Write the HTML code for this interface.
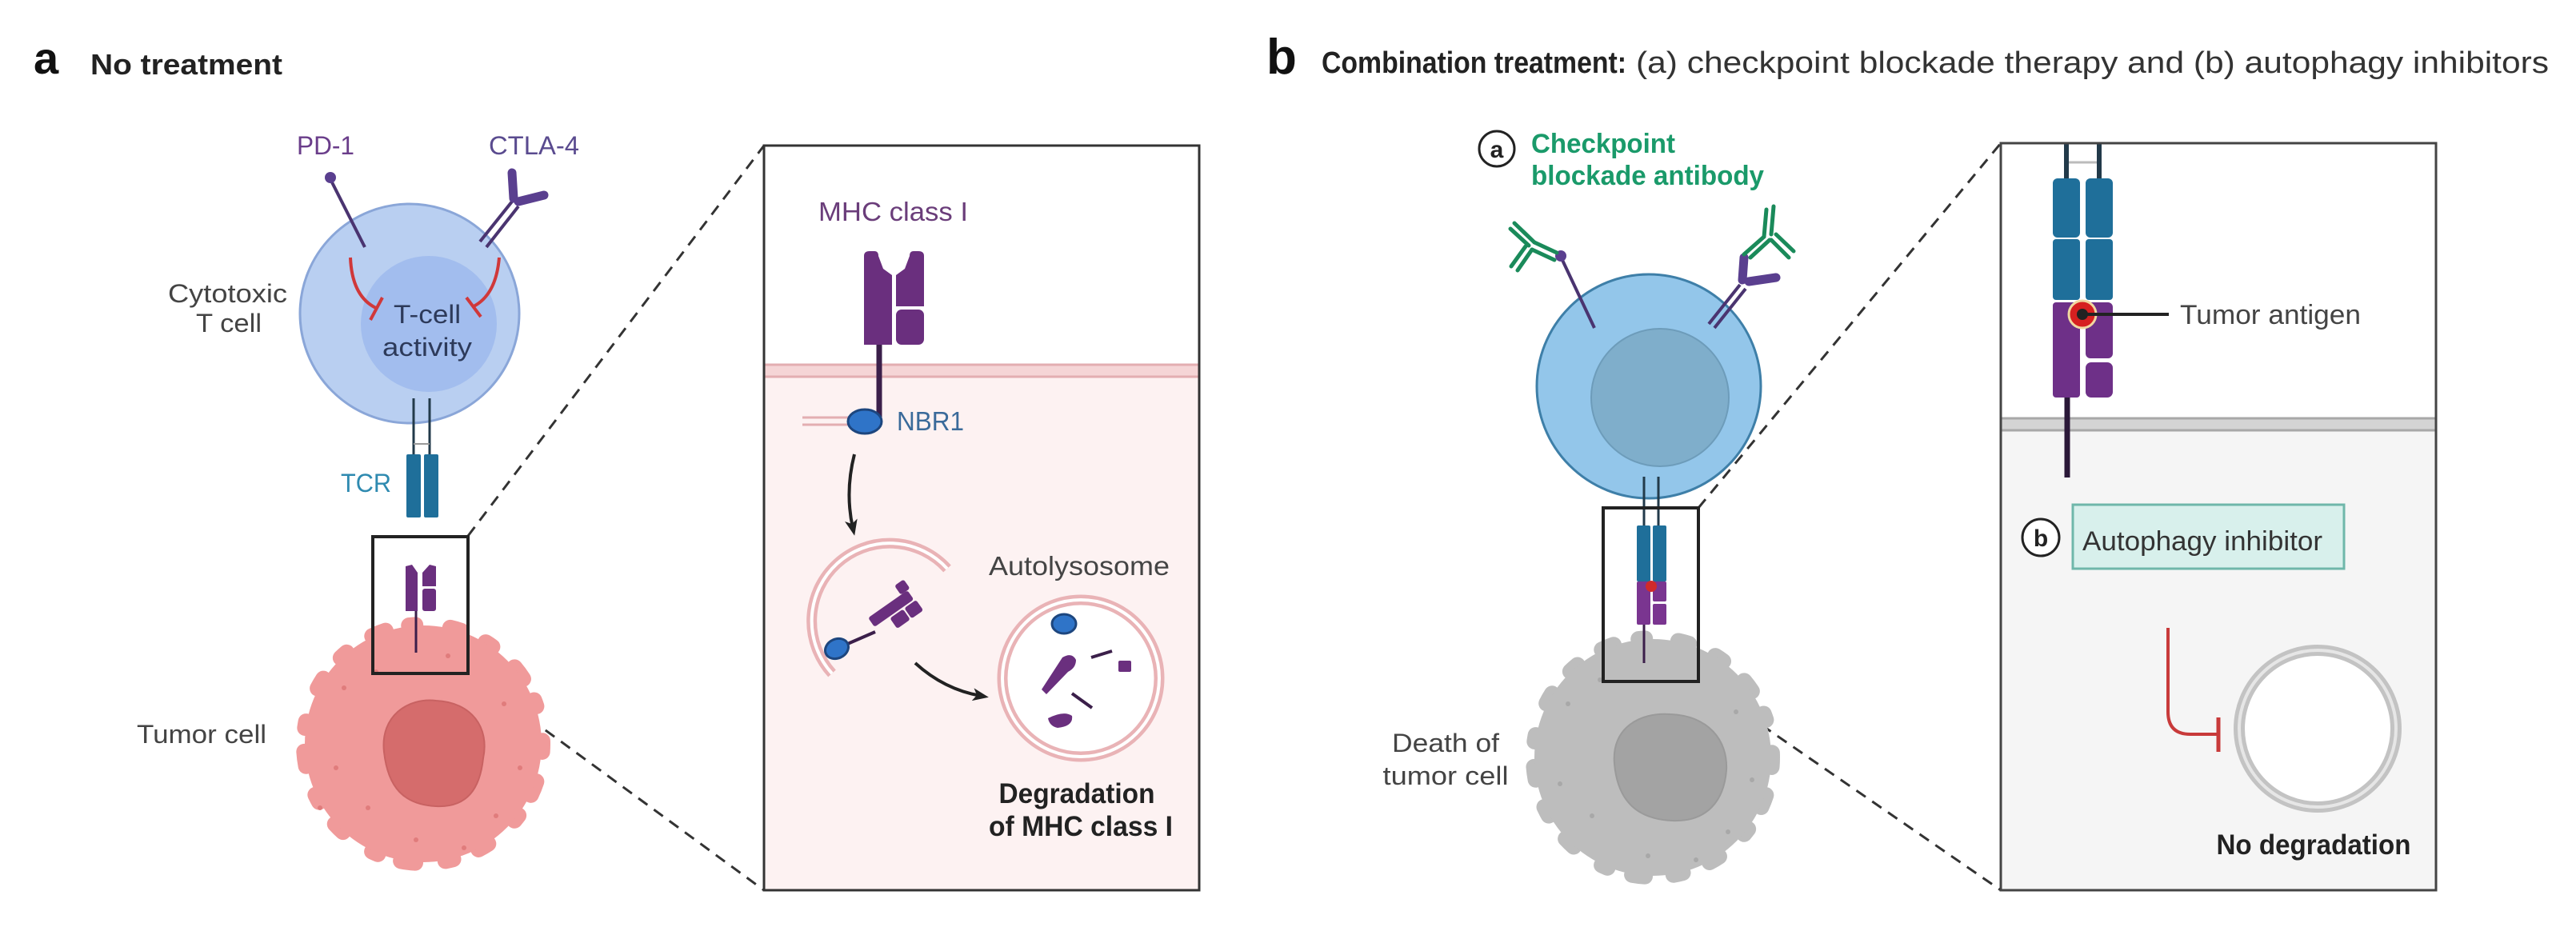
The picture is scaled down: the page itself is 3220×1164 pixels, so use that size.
<!DOCTYPE html>
<html><head><meta charset="utf-8">
<style>
html,body{margin:0;padding:0;background:#fff;}
svg{display:block;}
text{font-family:"Liberation Sans",Arial,sans-serif;}
</style></head>
<body>
<svg width="3220" height="1164" viewBox="0 0 3220 1164" xmlns="http://www.w3.org/2000/svg">
<defs>
<marker id="ah" markerWidth="20" markerHeight="20" refX="10" refY="10" orient="auto" markerUnits="userSpaceOnUse" viewBox="0 0 20 20">
<path d="M0,2 L20,10 L0,18 L5,10 z" fill="#222"/></marker>
</defs>
<rect width="3220" height="1164" fill="#fff"/>

<!-- ===== Titles ===== -->
<text x="42" y="92" font-size="56" font-weight="bold" fill="#111">a</text>
<text x="113" y="93" font-size="36" font-weight="bold" fill="#222" textLength="240" lengthAdjust="spacingAndGlyphs">No treatment</text>
<text x="1583" y="92" font-size="62" font-weight="bold" fill="#111">b</text>
<text x="1652" y="91" font-size="38" font-weight="bold" fill="#222" textLength="381" lengthAdjust="spacingAndGlyphs">Combination treatment:</text>
<text x="2045" y="91" font-size="38" fill="#333" textLength="1141" lengthAdjust="spacingAndGlyphs">(a) checkpoint blockade therapy and (b) autophagy inhibitors</text>

<!-- ===== Panel a: left cells ===== -->
<line x1="585" y1="670" x2="955" y2="182" stroke="#333" stroke-width="3" stroke-dasharray="14 10"/>
<line x1="585" y1="842" x2="955" y2="1113" stroke="#333" stroke-width="3" stroke-dasharray="14 10"/>

<!-- tumor cell pink -->
<circle cx="529" cy="930" r="149" fill="none" stroke="#f09a9a" stroke-width="20" stroke-dasharray="10 38 18 30 8 44 14 34" stroke-linecap="round"/>
<circle cx="529" cy="930" r="148" fill="#f09a9a"/>
<path d="M480,940 C475,895 510,872 545,876 C590,878 612,910 604,948 C600,985 585,1010 545,1008 C505,1006 485,985 480,940 Z" fill="#d56c6c" stroke="#c86262" stroke-width="2"/>
<g fill="#e07c7c">
<circle cx="430" cy="860" r="3"/><circle cx="460" cy="1010" r="3"/><circle cx="630" cy="880" r="3"/><circle cx="620" cy="1020" r="3"/><circle cx="520" cy="1050" r="3"/><circle cx="420" cy="960" r="3"/><circle cx="650" cy="960" r="3"/><circle cx="560" cy="820" r="3"/><circle cx="470" cy="840" r="3"/><circle cx="400" cy="1010" r="3"/><circle cx="580" cy="1060" r="3"/>
</g>

<!-- T cell -->
<circle cx="512" cy="392" r="137" fill="#b9cff1" stroke="#8aa6d8" stroke-width="3"/>
<circle cx="536" cy="405" r="85" fill="#a2bdee"/>
<line x1="413" y1="224" x2="456" y2="309" stroke="#4a3470" stroke-width="4"/>
<circle cx="413" cy="222" r="7" fill="#5a3f8f"/>
<line x1="600" y1="302" x2="640" y2="252" stroke="#4a3470" stroke-width="4"/>
<line x1="608" y1="309" x2="648" y2="258" stroke="#4a3470" stroke-width="4"/>
<line x1="642" y1="248" x2="640" y2="216" stroke="#5a3f8f" stroke-width="11" stroke-linecap="round"/>
<line x1="648" y1="252" x2="680" y2="244" stroke="#5a3f8f" stroke-width="11" stroke-linecap="round"/>
<path d="M438,322 Q440,372 472,386" fill="none" stroke="#d0383a" stroke-width="4"/>
<line x1="463" y1="400" x2="478" y2="372" stroke="#d0383a" stroke-width="4"/>
<path d="M624,322 Q620,370 590,384" fill="none" stroke="#d0383a" stroke-width="4"/>
<line x1="583" y1="372" x2="601" y2="396" stroke="#d0383a" stroke-width="4"/>
<text x="534" y="404" font-size="32" fill="#2d3a5a" text-anchor="middle" textLength="84" lengthAdjust="spacingAndGlyphs">T-cell</text>
<text x="534" y="445" font-size="32" fill="#2d3a5a" text-anchor="middle" textLength="112" lengthAdjust="spacingAndGlyphs">activity</text>
<text x="359" y="378" font-size="32" fill="#444" text-anchor="end" textLength="149" lengthAdjust="spacingAndGlyphs">Cytotoxic</text>
<text x="327" y="415" font-size="32" fill="#444" text-anchor="end" textLength="82" lengthAdjust="spacingAndGlyphs">T cell</text>
<text x="371" y="193" font-size="32" fill="#6a3d8a" textLength="72" lengthAdjust="spacingAndGlyphs">PD-1</text>
<text x="611" y="193" font-size="32" fill="#5a4b8f" textLength="113" lengthAdjust="spacingAndGlyphs">CTLA-4</text>
<line x1="517" y1="498" x2="517" y2="570" stroke="#223a4a" stroke-width="3"/>
<line x1="537" y1="498" x2="537" y2="570" stroke="#223a4a" stroke-width="3"/>
<line x1="517" y1="555" x2="537" y2="555" stroke="#999" stroke-width="2"/>
<rect x="508" y="568" width="18" height="79" rx="2" fill="#1f6f9a"/>
<rect x="530" y="568" width="18" height="79" rx="2" fill="#1f6f9a"/>
<text x="426" y="615" font-size="32" fill="#2e8ab0" textLength="63" lengthAdjust="spacingAndGlyphs">TCR</text>
<line x1="520" y1="760" x2="520" y2="816" stroke="#3b1f4a" stroke-width="3"/>
<path d="M507,708 L515,706 L522,716 L522,764 L507,764 Z" fill="#6a2f7e"/>
<path d="M545,708 L537,706 L528,716 L528,733 L545,733 Z" fill="#6a2f7e"/>
<rect x="528" y="736" width="17" height="28" rx="3" fill="#6a2f7e"/>
<rect x="466" y="671" width="119" height="171" fill="none" stroke="#222" stroke-width="4"/>
<text x="171" y="929" font-size="32" fill="#444" textLength="162" lengthAdjust="spacingAndGlyphs">Tumor cell</text>

<!-- ===== Panel a: zoom box ===== -->
<rect x="955" y="182" width="544" height="931" fill="#fff"/>
<rect x="955" y="464" width="544" height="649" fill="#fdf2f2"/>
<rect x="955" y="455" width="544" height="17" fill="#f5d5d6"/>
<line x1="955" y1="456" x2="1499" y2="456" stroke="#e3aeb1" stroke-width="3"/>
<line x1="955" y1="471" x2="1499" y2="471" stroke="#e3aeb1" stroke-width="3"/>
<rect x="955" y="182" width="544" height="931" fill="none" stroke="#333" stroke-width="3"/>
<text x="1023" y="276" font-size="33" fill="#6a3d7a" textLength="187" lengthAdjust="spacingAndGlyphs">MHC class I</text>
<line x1="1099" y1="425" x2="1099" y2="522" stroke="#3b1f4a" stroke-width="7"/>
<path d="M1080,320 Q1080,314 1087,314 L1093,314 Q1098,314 1098,320 L1104,336 L1115,344 L1115,431 L1080,431 Z" fill="#6a2f7e"/>
<path d="M1155,320 Q1155,314 1148,314 L1142,314 Q1137,314 1137,320 L1131,336 L1120,344 L1120,383 L1155,383 Z" fill="#6a2f7e"/>
<rect x="1120" y="387" width="35" height="44" rx="7" fill="#6a2f7e"/>
<line x1="1003" y1="522" x2="1062" y2="522" stroke="#e3aeb1" stroke-width="3"/>
<line x1="1003" y1="531" x2="1062" y2="531" stroke="#e3aeb1" stroke-width="3"/>
<ellipse cx="1081" cy="527" rx="21" ry="15" fill="#2f74c8" stroke="#1d467e" stroke-width="3"/>
<text x="1121" y="538" font-size="33" fill="#3a6a9a" textLength="84" lengthAdjust="spacingAndGlyphs">NBR1</text>
<path d="M1068,568 Q1056,615 1066,660" fill="none" stroke="#222" stroke-width="4" marker-end="url(#ah)"/>
<path d="M1184,711 A88,88 0 1 0 1040,842" fill="none" stroke="#e9b3b6" stroke-width="13"/>
<path d="M1184,711 A88,88 0 1 0 1040,842" fill="none" stroke="#fff" stroke-width="4"/>
<line x1="1048" y1="810" x2="1094" y2="790" stroke="#3b1f4a" stroke-width="4"/>
<ellipse cx="1046" cy="811" rx="15" ry="12" fill="#2f74c8" stroke="#1d467e" stroke-width="3" transform="rotate(-25 1046 811)"/>
<g transform="rotate(-35 1120 770)">
<rect x="1090" y="752" width="60" height="14" rx="3" fill="#6a2f7e"/>
<rect x="1112" y="768" width="20" height="16" rx="3" fill="#6a2f7e"/>
<rect x="1134" y="768" width="18" height="16" rx="3" fill="#6a2f7e"/>
<rect x="1140" y="738" width="14" height="14" rx="3" fill="#6a2f7e"/>
</g>
<text x="1236" y="719" font-size="33" fill="#444" textLength="226" lengthAdjust="spacingAndGlyphs">Autolysosome</text>
<circle cx="1351" cy="848" r="98" fill="#fff" stroke="#e9b3b6" stroke-width="13"/>
<circle cx="1351" cy="848" r="98" fill="none" stroke="#fff" stroke-width="4"/>
<ellipse cx="1330" cy="780" rx="15" ry="12" fill="#2f74c8" stroke="#1d467e" stroke-width="3"/>
<path d="M1302,862 L1328,822 Q1340,815 1345,825 Q1345,835 1335,840 L1308,868 Z" fill="#6a2f7e"/>
<line x1="1364" y1="822" x2="1390" y2="814" stroke="#3b1f4a" stroke-width="4"/>
<rect x="1398" y="826" width="16" height="14" rx="2" fill="#6a2f7e"/>
<line x1="1340" y1="867" x2="1365" y2="885" stroke="#3b1f4a" stroke-width="4"/>
<path d="M1310,898 Q1330,888 1340,895 Q1342,908 1322,910 Q1312,908 1310,898 Z" fill="#6a2f7e"/>
<path d="M1144,829 Q1180,862 1226,870" fill="none" stroke="#222" stroke-width="4" marker-end="url(#ah)"/>
<text x="1346" y="1004" font-size="35" font-weight="bold" fill="#222" text-anchor="middle" textLength="195" lengthAdjust="spacingAndGlyphs">Degradation</text>
<text x="1351" y="1045" font-size="35" font-weight="bold" fill="#222" text-anchor="middle" textLength="230" lengthAdjust="spacingAndGlyphs">of MHC class I</text>

<!-- ===== Panel b: left cells ===== -->
<line x1="2123" y1="635" x2="2501" y2="179" stroke="#333" stroke-width="3" stroke-dasharray="14 10"/>
<line x1="2123" y1="852" x2="2501" y2="1113" stroke="#333" stroke-width="3" stroke-dasharray="14 10"/>

<circle cx="2066" cy="947" r="149" fill="none" stroke="#bdbdbd" stroke-width="20" stroke-dasharray="12 36 16 32 8 42 14 36" stroke-linecap="round"/>
<circle cx="2066" cy="947" r="148" fill="#bdbdbd"/>
<path d="M2018,955 C2014,910 2050,890 2088,893 C2135,895 2160,925 2158,963 C2155,1000 2135,1028 2090,1026 C2045,1024 2022,1000 2018,955 Z" fill="#a3a3a3" stroke="#9a9a9a" stroke-width="2"/>
<g fill="#a8a8a8">
<circle cx="1960" cy="880" r="3"/><circle cx="1990" cy="1020" r="3"/><circle cx="2170" cy="890" r="3"/><circle cx="2160" cy="1040" r="3"/><circle cx="2060" cy="1070" r="3"/><circle cx="1950" cy="980" r="3"/><circle cx="2190" cy="975" r="3"/><circle cx="2000" cy="850" r="3"/><circle cx="2120" cy="1075" r="3"/>
</g>

<circle cx="2061" cy="483" r="140" fill="#93c6ea" stroke="#3e7fa8" stroke-width="3"/>
<circle cx="2075" cy="497" r="86" fill="#7faecb" stroke="#6d9cba" stroke-width="2"/>
<line x1="1951" y1="321" x2="1993" y2="410" stroke="#4a3470" stroke-width="4"/>
<circle cx="1951" cy="320" r="7" fill="#5a3f8f"/>
<g stroke="#1a8a5a" stroke-width="5" fill="none" stroke-linecap="round">
<line x1="1946" y1="316" x2="1918" y2="303"/>
<line x1="1943" y1="325" x2="1915" y2="312"/>
<line x1="1918" y1="303" x2="1893" y2="279"/>
<line x1="1911" y1="307" x2="1888" y2="286"/>
<line x1="1915" y1="312" x2="1897" y2="338"/>
<line x1="1907" y1="308" x2="1889" y2="333"/>
</g>
<line x1="2136" y1="405" x2="2175" y2="356" stroke="#4a3470" stroke-width="4"/>
<line x1="2143" y1="410" x2="2182" y2="361" stroke="#4a3470" stroke-width="4"/>
<line x1="2178" y1="350" x2="2180" y2="322" stroke="#5a3f8f" stroke-width="11" stroke-linecap="round"/>
<line x1="2186" y1="352" x2="2220" y2="347" stroke="#5a3f8f" stroke-width="11" stroke-linecap="round"/>
<g stroke="#1a8a5a" stroke-width="5" fill="none" stroke-linecap="round">
<line x1="2180" y1="318" x2="2205" y2="296"/>
<line x1="2188" y1="322" x2="2212" y2="300"/>
<line x1="2205" y1="296" x2="2208" y2="262"/>
<line x1="2214" y1="293" x2="2217" y2="258"/>
<line x1="2214" y1="300" x2="2236" y2="322"/>
<line x1="2220" y1="293" x2="2242" y2="314"/>
</g>
<circle cx="1871" cy="186" r="22" fill="#fff" stroke="#222" stroke-width="3"/>
<text x="1871" y="197" font-size="30" font-weight="bold" fill="#222" text-anchor="middle">a</text>
<text x="1914" y="191" font-size="34" font-weight="bold" fill="#1a9a6a" textLength="180" lengthAdjust="spacingAndGlyphs">Checkpoint</text>
<text x="1914" y="231" font-size="34" font-weight="bold" fill="#1a9a6a" textLength="291" lengthAdjust="spacingAndGlyphs">blockade antibody</text>
<line x1="2055" y1="596" x2="2055" y2="660" stroke="#223a4a" stroke-width="3"/>
<line x1="2073" y1="596" x2="2073" y2="660" stroke="#223a4a" stroke-width="3"/>
<rect x="2046" y="657" width="17" height="70" rx="2" fill="#1f6f9a"/>
<rect x="2066" y="657" width="17" height="70" rx="2" fill="#1f6f9a"/>
<line x1="2055" y1="775" x2="2055" y2="829" stroke="#3b1f4a" stroke-width="3"/>
<rect x="2046" y="727" width="17" height="54" rx="2" fill="#7a3590"/>
<rect x="2066" y="727" width="17" height="25" rx="2" fill="#7a3590"/>
<rect x="2066" y="755" width="17" height="26" rx="2" fill="#7a3590"/>
<circle cx="2064" cy="733" r="7" fill="#d02a2a"/>
<rect x="2004" y="635" width="119" height="217" fill="none" stroke="#222" stroke-width="4"/>
<text x="1807" y="940" font-size="32" fill="#444" text-anchor="middle" textLength="134" lengthAdjust="spacingAndGlyphs">Death of</text>
<text x="1807" y="981" font-size="32" fill="#444" text-anchor="middle" textLength="157" lengthAdjust="spacingAndGlyphs">tumor cell</text>

<!-- ===== Panel b: zoom box ===== -->
<rect x="2501" y="179" width="544" height="934" fill="#fff"/>
<rect x="2501" y="531" width="544" height="582" fill="#f5f5f5"/>
<rect x="2501" y="522" width="544" height="17" fill="#d4d4d4"/>
<line x1="2501" y1="523" x2="3045" y2="523" stroke="#a8a8a8" stroke-width="3"/>
<line x1="2501" y1="538" x2="3045" y2="538" stroke="#a8a8a8" stroke-width="3"/>
<line x1="2583" y1="179" x2="2583" y2="226" stroke="#223a4a" stroke-width="6"/>
<line x1="2624" y1="179" x2="2624" y2="226" stroke="#223a4a" stroke-width="6"/>
<line x1="2586" y1="203" x2="2621" y2="203" stroke="#bbb" stroke-width="3"/>
<rect x="2566" y="223" width="34" height="74" rx="6" fill="#1f6f9a"/>
<rect x="2566" y="299" width="34" height="76" rx="4" fill="#1f6f9a"/>
<rect x="2607" y="223" width="34" height="74" rx="6" fill="#1f6f9a"/>
<rect x="2607" y="299" width="34" height="76" rx="4" fill="#1f6f9a"/>
<line x1="2584" y1="490" x2="2584" y2="597" stroke="#2a1838" stroke-width="7"/>
<rect x="2566" y="378" width="34" height="119" rx="4" fill="#6e3088"/>
<rect x="2607" y="378" width="34" height="70" rx="6" fill="#6e3088"/>
<rect x="2607" y="453" width="34" height="44" rx="7" fill="#6e3088"/>
<circle cx="2603" cy="393" r="17" fill="#d62020" stroke="#f0d8a0" stroke-width="3"/>
<circle cx="2603" cy="393" r="7" fill="#222"/>
<line x1="2603" y1="393" x2="2711" y2="393" stroke="#222" stroke-width="4"/>
<text x="2725" y="405" font-size="34" fill="#444" textLength="226" lengthAdjust="spacingAndGlyphs">Tumor antigen</text>
<circle cx="2551" cy="672" r="23" fill="#fff" stroke="#222" stroke-width="3"/>
<text x="2551" y="683" font-size="30" font-weight="bold" fill="#222" text-anchor="middle">b</text>
<rect x="2591" y="631" width="339" height="80" fill="#d8f0ec" stroke="#6fb7aa" stroke-width="3"/>
<text x="2603" y="688" font-size="34" fill="#333" textLength="300" lengthAdjust="spacingAndGlyphs">Autophagy inhibitor</text>
<path d="M2710,785 L2710,890 Q2710,918 2738,918 L2771,918" fill="none" stroke="#c83a3a" stroke-width="4"/>
<line x1="2773" y1="897" x2="2773" y2="940" stroke="#c83a3a" stroke-width="5"/>
<circle cx="2897" cy="911" r="98" fill="#fff" stroke="#c3c3c3" stroke-width="14"/>
<circle cx="2897" cy="911" r="98" fill="none" stroke="#e6e6e6" stroke-width="4"/>
<text x="2892" y="1068" font-size="35" font-weight="bold" fill="#222" text-anchor="middle" textLength="243" lengthAdjust="spacingAndGlyphs">No degradation</text>
<rect x="2501" y="179" width="544" height="934" fill="none" stroke="#444" stroke-width="3"/>
</svg>
</body></html>
